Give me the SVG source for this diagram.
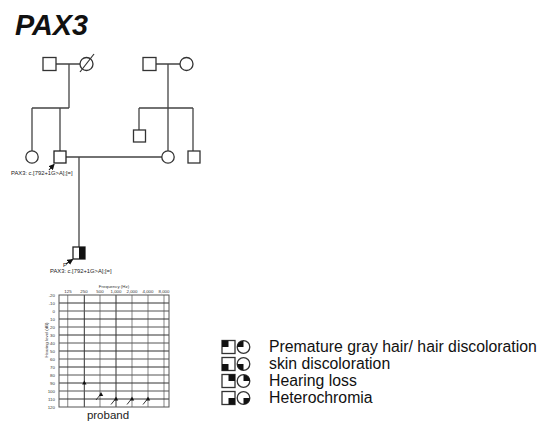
<svg xmlns="http://www.w3.org/2000/svg" width="543" height="421" viewBox="0 0 543 421">
<style>
.s{fill:#fff;stroke:#333;stroke-width:1.3}
.ln{fill:none;stroke:#444;stroke-width:1.3}
.lbl{font-family:"Liberation Sans",Arial,sans-serif;font-size:5.8px;fill:#222}
.g1{stroke:#333;stroke-width:1}
.g2{stroke:#999;stroke-width:1.2}
.ax{font-family:"Liberation Sans",Arial,sans-serif;font-size:4.4px;fill:#333}
.leg{font-family:"Liberation Sans",Arial,sans-serif;font-size:15.8px;fill:#111}
</style>
<defs>
<marker id="ah" markerWidth="6" markerHeight="6" refX="5" refY="3" orient="auto" markerUnits="userSpaceOnUse"><path d="M0,0 L6,3 L0,6 z" fill="#111"/></marker>
</defs>
<rect width="543" height="421" fill="#fff"/>
<text x="15" y="35" font-family="Liberation Sans,Arial,sans-serif" font-size="28.8" font-weight="bold" font-style="italic" fill="#111">PAX3</text>

<g id="connectors">
<path class="ln" d="M56,64 H80 M69,64 V108 M32,108 H69 M32,108 V151 M60,108 V151"/>
<path class="ln" d="M156,64 H180 M168,64 V108 M139,108 H193 M139,108 V130 M168,108 V151 M193,108 V151"/>
<path class="ln" d="M66,157 H162 M79,157 V247"/>
</g>

<g id="gf"><rect class="s" x="43" y="57.5" width="13" height="13"/></g>
<g id="gm"><circle class="s" cx="86.5" cy="64" r="6.5"/><line x1="80" y1="72" x2="94" y2="54" stroke="#333" stroke-width="1.2"/></g>
<g id="gf2"><rect class="s" x="143" y="57.5" width="13" height="13"/></g>
<g id="gm2"><circle class="s" cx="186.5" cy="64" r="6.5"/></g>
<g id="aunt"><circle class="s" cx="32" cy="157" r="6.2"/></g>
<g id="father"><rect class="s" x="54" y="151" width="12" height="12" stroke-width="1.6" style="stroke:#222"/>
<line x1="49" y1="170" x2="54" y2="164.5" stroke="#111" stroke-width="1.1" marker-end="url(#ah)"/>
<text class="lbl" x="11" y="175">PAX3: c.[792+1G&gt;A];[=]</text></g>
<g id="uncle1"><rect class="s" x="133.5" y="130" width="12" height="12"/></g>
<g id="mother"><circle class="s" cx="168" cy="157" r="6.2"/></g>
<g id="uncle2"><rect class="s" x="188" y="151" width="12" height="12"/></g>
<g id="proband"><rect class="s" x="73" y="247" width="12" height="12" style="stroke:#222"/>
<rect x="79" y="247" width="6" height="12" fill="#111"/>
<line x1="66" y1="264" x2="72.5" y2="259.5" stroke="#111" stroke-width="1.1" marker-end="url(#ah)"/>
<text class="lbl" x="63" y="267">P</text>
<text class="lbl" x="50" y="273">PAX3: c.[792+1G&gt;A];[=]</text></g>

<g id="audiogram">
<text class="ax" x="114" y="287.5" text-anchor="middle">Frequency (Hz)</text>
<g class="ax" text-anchor="middle">
<text x="68" y="293">125</text><text x="84" y="293">250</text><text x="100" y="293">500</text><text x="116" y="293">1,000</text><text x="132" y="293">2,000</text><text x="148" y="293">4,000</text><text x="164" y="293">8,000</text>
</g>
<g class="ax" text-anchor="end">
<text x="55" y="296.5">-20</text><text x="55" y="304.5">-10</text><text x="55" y="312.5">0</text><text x="55" y="320.5">10</text><text x="55" y="328.5">20</text><text x="55" y="336.5">30</text><text x="55" y="344.5">40</text><text x="55" y="352.5">50</text><text x="55" y="360.5">60</text><text x="55" y="368.5">70</text><text x="55" y="376.5">80</text><text x="55" y="384.5">90</text><text x="55" y="392.5">100</text><text x="55" y="400.5">110</text><text x="55" y="408.5">120</text>
</g>
<text class="ax" transform="translate(48,340) rotate(-90)" text-anchor="middle">Hearing level (dB)</text>
<g>
<path class="g2" d="M67.7,295 V407 M100,295 V407 M132,295 V407 M148,295 V407 M164,295 V407"/>
<path class="g1" d="M84.3,295 V407 M116,295 V407"/>
<path class="g1" d="M59,303 H169 M59,319 H169 M59,335 H169 M59,351 H169 M59,367 H169 M59,383 H169 M59,399 H169"/>
<path class="g1" d="M59,311 H169 M59,327 H169 M59,343 H169 M59,359 H169 M59,375 H169 M59,391 H169" style="stroke:#555"/>
<rect x="59" y="295" width="110" height="112" fill="none" stroke="#555" stroke-width="1"/>
</g>
<g fill="#111">
<path d="M84.3,380.5 L86.5,384.5 L82.1,384.5 z"/>
<path d="M101,392 L103.2,396 L98.8,396 z"/>
<path d="M116,396.5 L118.2,400.5 L113.8,400.5 z"/>
<path d="M132,396.5 L134.2,400.5 L129.8,400.5 z"/>
<path d="M148,396.5 L150.2,400.5 L145.8,400.5 z"/>
</g>
<g stroke="#222" stroke-width="0.9">
<line x1="100" y1="395" x2="96" y2="400"/>
<line x1="115" y1="399.5" x2="111" y2="404.5"/>
<line x1="131" y1="399.5" x2="127" y2="404.5"/>
<line x1="147" y1="399.5" x2="143" y2="404.5"/>
</g>
<text x="108" y="419" text-anchor="middle" font-family="Liberation Sans,Arial,sans-serif" font-size="11.5" fill="#222">proband</text>
</g>

<g id="legend">
<g id="leg1"><rect class="s" x="222" y="340.5" width="13" height="13"/><rect x="222" y="340.5" width="6.5" height="6.5" fill="#111"/>
<circle class="s" cx="243.5" cy="347" r="6.3"/><path d="M243.5,347 V340.7 A6.3,6.3 0 0 0 237.2,347 z" fill="#111"/>
<text class="leg" x="269" y="352">Premature gray hair/ hair discoloration</text></g>
<g id="leg2"><rect class="s" x="222" y="357.5" width="13" height="13"/><rect x="222" y="364" width="6.5" height="6.5" fill="#111"/>
<circle class="s" cx="243.5" cy="364" r="6.3"/><path d="M243.5,364 H237.2 A6.3,6.3 0 0 0 243.5,370.3 z" fill="#111"/>
<text class="leg" x="269" y="369">skin discoloration</text></g>
<g id="leg3"><rect class="s" x="222" y="374.5" width="13" height="13"/><rect x="228.5" y="374.5" width="6.5" height="6.5" fill="#111"/>
<circle class="s" cx="243.5" cy="381" r="6.3"/><path d="M243.5,381 V374.7 A6.3,6.3 0 0 1 249.8,381 z" fill="#111"/>
<text class="leg" x="269" y="386">Hearing loss</text></g>
<g id="leg4"><rect class="s" x="222" y="391.5" width="13" height="13"/><rect x="228.5" y="398" width="6.5" height="6.5" fill="#111"/>
<circle class="s" cx="243.5" cy="398" r="6.3"/><path d="M243.5,398 H249.8 A6.3,6.3 0 0 1 243.5,404.3 z" fill="#111"/>
<text class="leg" x="269" y="403">Heterochromia</text></g>
</g>
</svg>
